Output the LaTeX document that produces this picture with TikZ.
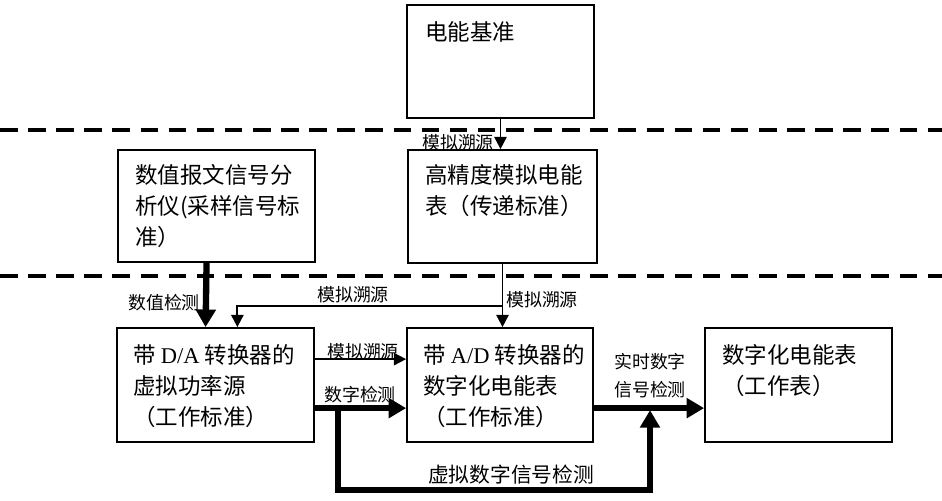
\documentclass[tikz,border=0pt]{standalone}
\usepackage{fontspec}
\setmainfont{Noto Sans CJK SC}
\newfontfamily\latin{Liberation Serif}
\usetikzlibrary{arrows.meta,calc,fit}

\tikzset{
	box/.style={draw, line width=1pt, inner sep=0pt},
	boxtext/.style={anchor=north west, inner sep=0pt, align=left, font=\fontsize{12.8}{17.6}\selectfont},
	lbl/.style={inner sep=0pt, font=\fontsize{10.2}{16}\selectfont, align=center},
	thin/.style={line width=1.1pt, -{Triangle[length=7pt, width=7pt]}},
	thick/.style={line width=3.6pt, -{Triangle[length=10pt, width=11pt]}},
	sep/.style={line width=1.8pt, dash pattern=on 10pt off 6pt}
}

\begin{document}
\begin{tikzpicture}[x=0.02cm, y=-0.02cm]
				\useasboundingbox (0, 0) rectangle (942, 500);
				
				\draw[sep] (0, 130) -- (942, 130);
				\draw[sep] (0, 276) -- (942, 276);
				
				\node[box, fit={(407, 5) (594, 118)}] (ref) {};
				\node[box, fit={(118, 150) (315, 262)}] (ana) {};
				\node[box, fit={(408, 150) (597, 263)}] (hp) {};
				\node[box, fit={(117, 328) (314, 442)}] (da) {};
				\node[box, fit={(407, 328) (593, 442)}] (ad) {};
				\node[box, fit={(705, 328) (892, 442)}] (dm) {};
				
				\node[boxtext] (reft) at (425, 21) {电能基准};
				\node[boxtext] (anat) at (135, 164) {数值报文信号分\\析仪(采样信号标\\准）};
				\node[boxtext] (hpt) at (425, 164) {高精度模拟电能\\表（传递标准）};
				\node[boxtext] (dat) at (133, 344) {带 {\latin D/A} 转换器的\\虚拟功率源\\（工作标准）};
				\node[boxtext] (adt) at (423, 344) {带 {\latin A/D} 转换器的\\数字化电能表\\（工作标准）};
				\node[boxtext] (dmt) at (722, 344) {数字化电能表\\（工作表）};
				
				% traceability chain
				\draw[thin] (ref.south) -- (ref.south |- hp.north);
				\coordinate (br) at ($(hp.south)+(0, 42)$);
				\draw[thin] (hp.south) -- (hp.south |- ad.north);
				\draw[thin] (br) -| ($(da.north west)!0.61!(da.north east)$);
				\draw[thick] ($(ana.south west)!0.45!(ana.south east)$) -- ($(da.north west)!0.45!(da.north east)$);
				
				\coordinate (a1) at ($(da.north east)+(0, 32)$);
				\coordinate (d1) at ($(da.north east)+(0, 81)$);
				\coordinate (e1) at ($(ad.north east)+(0, 81)$);
				\draw[thin] (a1) -- (a1 -| ad.west);
				\draw[thick] (d1) -- (d1 -| ad.west);
				\draw[thick] (e1) -- (e1 -| dm.west);
				
				\coordinate (lp) at ($(d1)+(23, 0)$);
				\coordinate (lq) at (650, 490);
				\draw[thick] (lp) |- (lq) -- ($(lq |- e1)+(0, 2)$);
				
				\node[lbl] (l1) at (458, 143) {模拟溯源};
				\node[lbl] (l2) at (164, 303) {数值检测};
				\node[lbl] (l3) at (353, 295) {模拟溯源};
				\node[lbl] (l4) at (542, 300) {模拟溯源};
				\node[lbl] (l5) at (363, 352) {模拟溯源};
				\node[lbl] (l6) at (360, 395) {数字检测};
				\node[lbl] (l7) at (650, 376) {实时数字\\信号检测};
				\node[lbl, font=\fontsize{11.8}{16}\selectfont] (l8) at (511, 475) {虚拟数字信号检测};
			\end{tikzpicture}
\end{document}
